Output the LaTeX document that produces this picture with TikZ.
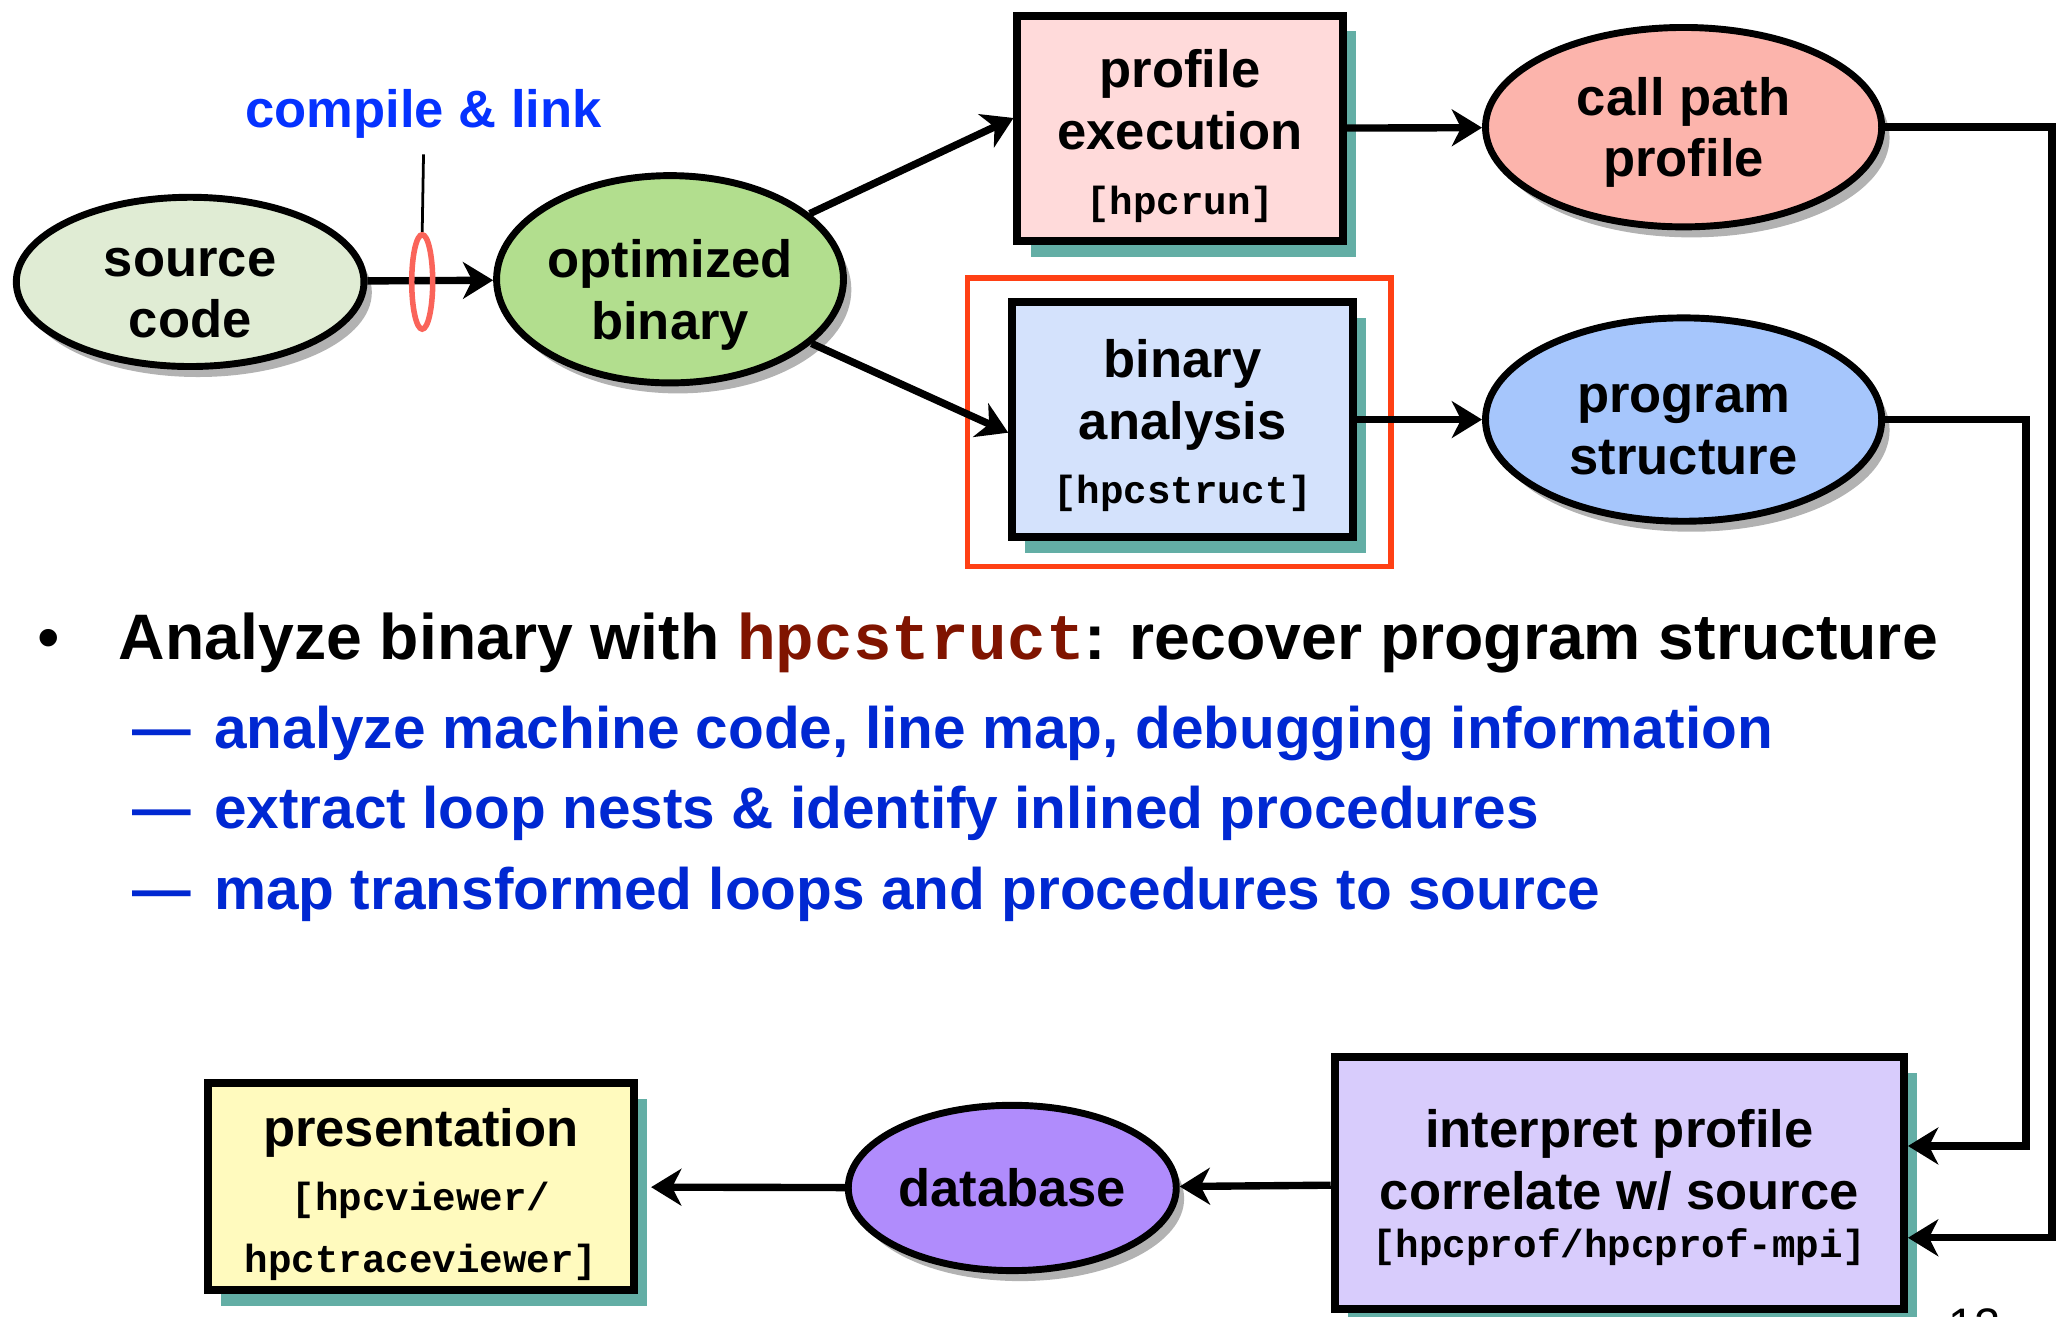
\documentclass[tikz,border=0pt]{standalone}
\usepackage{xcolor}
\usepackage{fontspec}
\setmainfont{Liberation Sans}
\setmonofont{Liberation Mono}
\usetikzlibrary{arrows.meta,shapes.geometric,shadows}
\definecolor{srcfill}{RGB}{224,236,212}
\definecolor{optfill}{RGB}{178,222,142}
\definecolor{pefill}{RGB}{255,218,218}
\definecolor{cppfill}{RGB}{252,180,172}
\definecolor{bafill}{RGB}{212,226,252}
\definecolor{psfill}{RGB}{166,198,252}
\definecolor{ipfill}{RGB}{216,204,252}
\definecolor{dbfill}{RGB}{176,140,252}
\definecolor{presfill}{RGB}{255,250,190}
\definecolor{shteal}{RGB}{72,160,150}
\definecolor{hired}{RGB}{255,64,20}
\definecolor{ringred}{RGB}{250,100,90}
\definecolor{linkblue}{RGB}{5,50,255}
\definecolor{subblue}{RGB}{0,40,210}
\definecolor{codered}{RGB}{128,20,0}
\newcommand\nodefont{\fontsize{11.4}{13.4}\selectfont\bfseries}
\newcommand\toolname[1]{{\fontsize{8.5}{10}\selectfont\ttfamily\bfseries #1}}
\newcommand\topgap[1]{\rule{0pt}{#1}}
\tikzset{
oval/.style={ellipse,draw,line width=1.5pt,inner sep=0pt,align=center,font=\nodefont,
  drop shadow={fill=black,opacity=0.3,shadow xshift=0.06cm,shadow yshift=-0.08cm}},
tool/.style={rectangle,draw,line width=1.7pt,inner sep=0pt,align=center,font=\nodefont,
  drop shadow={fill=shteal,opacity=0.85,shadow xshift=0.1cm,shadow yshift=-0.12cm}},
flow/.style={line width=1.6pt,-{Stealth[length=0.23cm,width=0.28cm,inset=0.07cm]}},
txt/.style={anchor=base west,inner sep=0pt}
}
\begin{document}
\begin{tikzpicture}[x=0.01cm,y=-0.01cm]
\fill[white](0,0) rectangle (1568,1004);
\useasboundingbox (0,0) rectangle (1568,1004);
\node[oval,fill=srcfill,minimum width=2.65cm,minimum height=1.29cm](src) at (145,215){\topgap{11pt}source\\code};
\node[oval,fill=optfill,minimum width=2.52cm,minimum height=1.58cm](opt) at (511,213){\topgap{15pt}optimized\\binary};
\node[tool,fill=pefill,minimum width=2.48cm,minimum height=1.72cm](pe) at (900,98){\topgap{11.5pt}profile\\execution\\[0.8pt]\toolname{[hpcrun]}};
\node[oval,fill=cppfill,minimum width=3.02cm,minimum height=1.52cm](cpp) at (1284,97){\topgap{10.5pt}call path\\profile};
\node[tool,fill=bafill,minimum width=2.60cm,minimum height=1.79cm](ba) at (902,320){\topgap{11pt}binary\\analysis\\[0.5pt]\toolname{[hpcstruct]}};
\node[oval,fill=psfill,minimum width=3.02cm,minimum height=1.55cm](ps) at (1284,320){\topgap{10.5pt}program\\structure};
\node[tool,fill=ipfill,minimum width=4.34cm,minimum height=1.92cm](ip) at (1235,902){\topgap{10.5pt}interpret profile\\correlate w/ source\\[-2.9pt]\toolname{[hpcprof/hpcprof-mpi]}};
\node[oval,fill=dbfill,minimum width=2.50cm,minimum height=1.26cm](db) at (772,906){database};
\node[tool,fill=presfill,minimum width=3.25cm,minimum height=1.58cm](pres) at (321,905){\topgap{11.5pt}presentation\\[0.5pt]\toolname{[hpcviewer/}\\\toolname{hpctraceviewer]}};
\draw[hired,line width=1.2pt](738,212) rectangle (1061,432);
\coordinate(rhi) at (1545,874);
\coordinate(rlo) at (1565,944);
\draw[flow](src)--(opt);
\draw[flow](opt)--([yshift=0.08cm]pe.west);
\draw[flow](opt)--([yshift=-0.1cm]ba.west);
\draw[flow](pe)--(cpp);
\draw[flow](ba)--(ps);
\draw[flow](cpp.east)-|(rlo)--(rlo-|ip.east);
\draw[flow](ps.east)-|(rhi)--(rhi-|ip.east);
\draw[flow](ip)--(db);
\draw[flow,shorten >=0.1cm](db)--(pres);
\node[ellipse,draw=ringred,line width=1.2pt,minimum width=0.16cm,minimum height=0.72cm,inner sep=0pt](ring) at (322,215){};
\node[font=\nodefont,text=linkblue,anchor=base](cl) at (323,97){compile \& link};
\draw[line width=0.6pt](cl.south)--(ring.north);
\node[txt,font=\fontsize{13.95}{16}\selectfont](dot) at (28,503){•};
\node[txt,font=\fontsize{13.95}{16}\selectfont\bfseries](b1) at (90,503){Analyze binary with \textcolor{codered}{\ttfamily hpcstruct}: recover program structure};
\node[txt,font=\fontsize{12.7}{15}\selectfont\bfseries,text=subblue](s1) at (100,571){—\hspace{0.18cm}analyze machine code, line map, debugging information};
\node[txt,font=\fontsize{12.7}{15}\selectfont\bfseries,text=subblue](s2) at (100,632){—\hspace{0.18cm}extract loop nests \& identify inlined procedures};
\node[txt,font=\fontsize{12.7}{15}\selectfont\bfseries,text=subblue](s3) at (100,694){—\hspace{0.18cm}map transformed loops and procedures to source};
\node[txt,font=\fontsize{10.2}{12}\selectfont](pg) at (1485,1023){12};
\end{tikzpicture}
\end{document}
